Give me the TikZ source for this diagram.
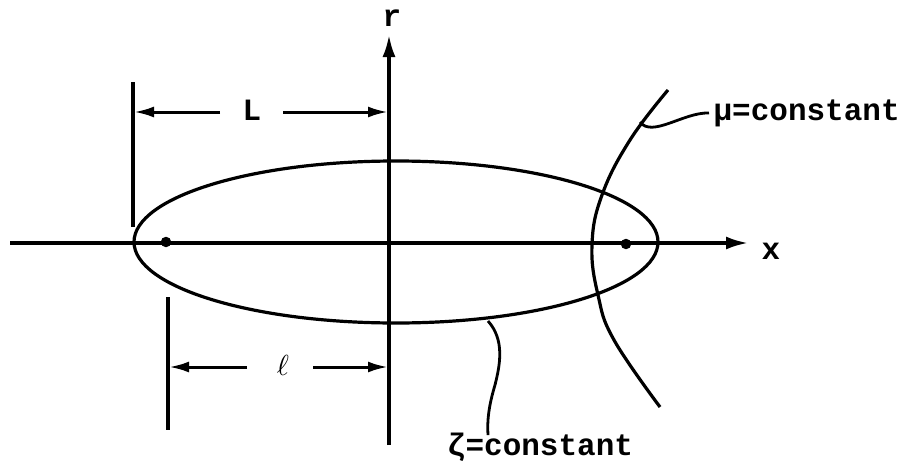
\documentclass[tikz,border=0pt]{standalone}
\usepackage{fontspec}
\setmonofont{Liberation Mono}
\usetikzlibrary{arrows.meta}

\begin{document}
\begin{tikzpicture}[x=1pt, y=-1pt, line width=3.2pt,
    lbl/.style={font=\fontsize{31}{31}\selectfont\ttfamily\bfseries, inner sep=0pt},
    axistip/.style={-{Latex[length=22pt,width=13pt]}},
    dimline/.style={-{Latex[length=20pt,width=11pt]}, line width=3pt},
    leader/.style={line width=2.8pt}]
    \useasboundingbox (0,0) rectangle (903,466);
    % Asys
    \coordinate (xstart) at (10,243);
    \coordinate (xend) at (748,243);
    \coordinate (rstart) at (389,445);
    \coordinate (rend) at (389,35);
    \draw[axistip] (xstart) -- (xend);
    \draw[axistip] (rstart) -- (rend);
    \node[lbl] (xlab) at (771,251) {x};
    \node[lbl] (rlab) at (392,18) {r};

    % Elipse (zeta = const) ir zidiniai
    \draw (396,242) ellipse [x radius=262pt, y radius=81pt];
    \filldraw (166,242) circle (3.5pt) coordinate (fleft);
    \filldraw (626,244) circle (3.5pt) coordinate (fright);

    % Hiperbole (mu = const)
    \draw plot[smooth, tension=0.7] coordinates {(668,90) (630,140) (602,195) (592,245) (598,295) (614,340) (660,407)};

    % Matmuo L
    \coordinate (Ltop) at (133,82);
    \coordinate (Lbot) at (133,227);
    \draw (Ltop) -- (Lbot);
    \node[lbl] (Llab) at (252,110) {L};
    \coordinate (Lleft) at (134,112);
    \coordinate (Lright) at (388,112);
    \draw[dimline] (220,112) -- (Lleft);
    \draw[dimline] (283,112) -- (Lright);

    % Matmuo l
    \coordinate (ltop) at (168,297);
    \coordinate (lbot) at (168,430);
    \draw (ltop) -- (lbot);
    \node[inner sep=0pt, scale=2.9] (llab) at (283,365) {$\ell$};
    \coordinate (lleft) at (169,367);
    \coordinate (lright) at (388,367);
    \draw[dimline] (247,367) -- (lleft);
    \draw[dimline] (313,367) -- (lright);

    % Uzrasai
    \node[lbl, anchor=west] (mulab) at (712,113) {μ=constant};
    \node[lbl] (zetalab) at (540,447) {ζ=constant};
    \coordinate (muon) at (640,122);
    \coordinate (zetaon) at (488,321);
    \draw[leader] (muon) .. controls (652,138) and (684,112) .. ([xshift=-3pt]mulab.west);
    \draw[leader] (zetaon) .. controls (505,340) and (500,365) .. (495,385)
        .. controls (489,405) and (487,420) .. ([yshift=-4pt]zetalab.north -| zetaon);
\end{tikzpicture}
\end{document}
